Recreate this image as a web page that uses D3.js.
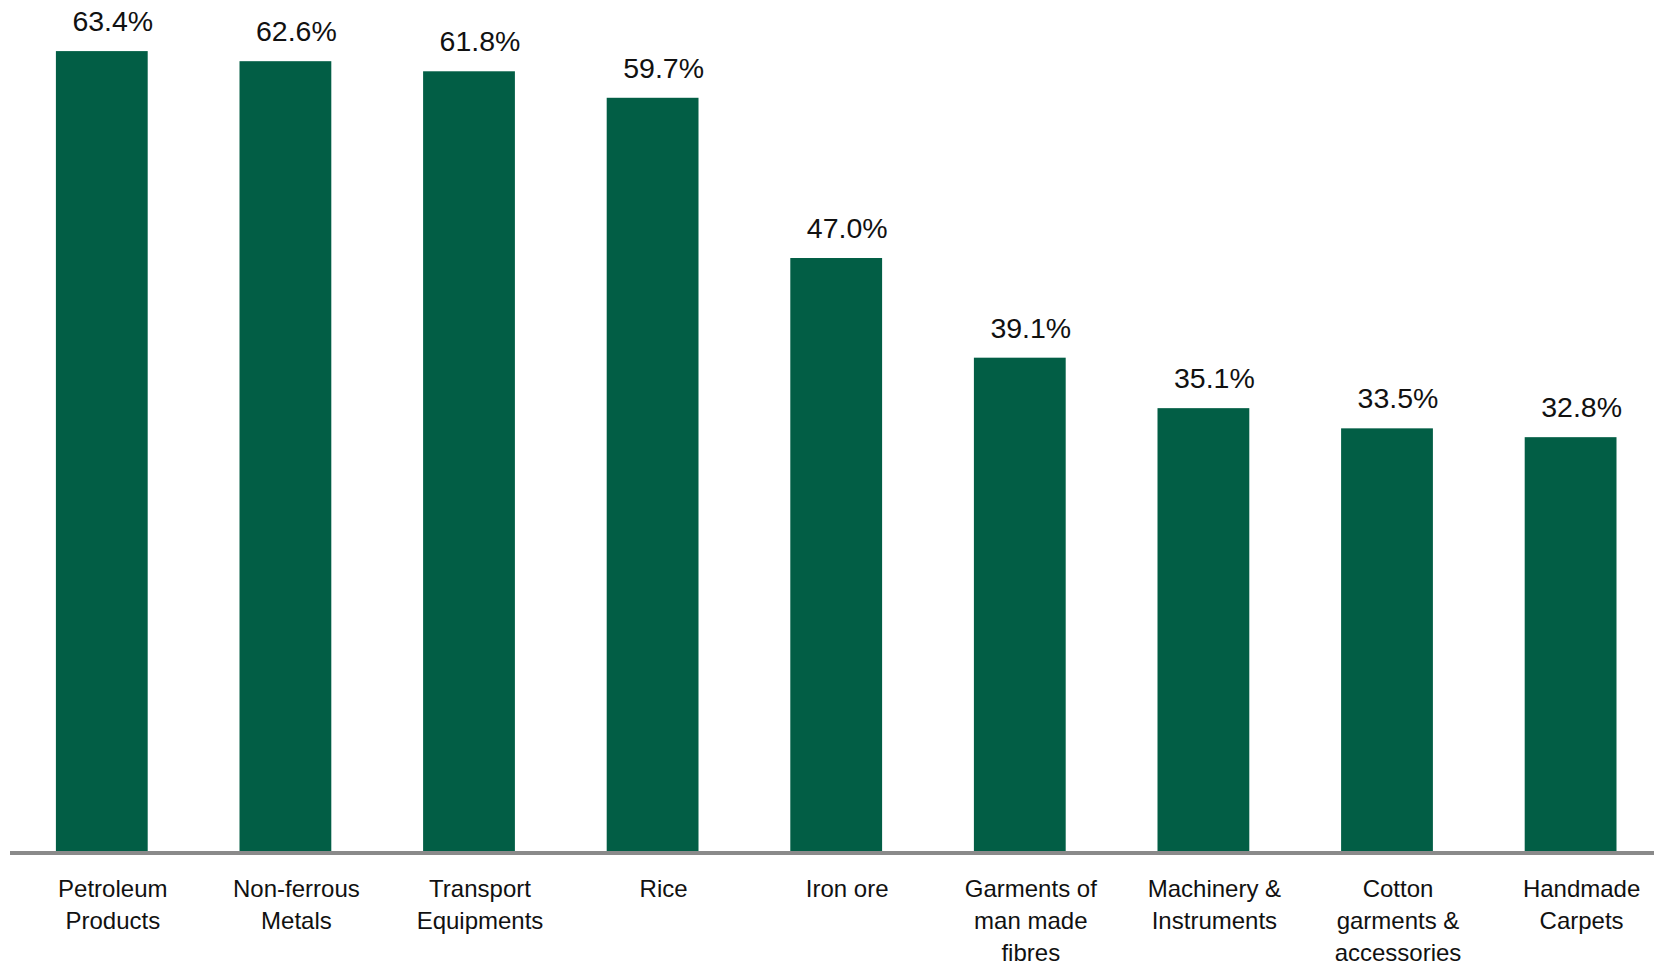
<!DOCTYPE html>
<html>
<head>
<meta charset="utf-8">
<script src="https://cdn.jsdelivr.net/npm/d3@7"></script>
<style>
  html, body { margin: 0; padding: 0; background: #fff; }
  svg { display: block; font-family: "Liberation Sans", Arial, Helvetica, sans-serif; }
</style>
</head>
<body>
<svg id="chart" width="1654" height="967"></svg>
<script>
// Export categories (label lines) and share values in percent
const categories = [
  ["Petroleum", "Products"],
  ["Non-ferrous", "Metals"],
  ["Transport", "Equipments"],
  ["Rice"],
  ["Iron ore"],
  ["Garments of", "man made", "fibres"],
  ["Machinery &", "Instruments"],
  ["Cotton", "garments &", "accessories"],
  ["Handmade", "Carpets"]
];
const values = [63.4, 62.6, 61.8, 59.7, 47.0, 39.1, 35.1, 33.5, 32.8];
const valueLabels = ["63.4%", "62.6%", "61.8%", "59.7%", "47.0%", "39.1%", "35.1%", "33.5%", "32.8%"];

const width = 1654, height = 967;
const baseY = 851;
const barColor = "#025e45";
const textShift = 11;

const svg = d3.select("#chart");

const keys = categories.map((c, i) => i);

const x = d3.scaleBand()
  .domain(keys)
  .range([10, 10 + 183.6 * 9])
  .paddingInner(0.5)
  .paddingOuter(0.25);

const y = d3.scaleLinear()
  .domain([0, 67.45])
  .range([baseY, 0]);

// Bars
svg.append("g")
  .selectAll("rect")
  .data(values)
  .join("rect")
  .attr("x", (d, i) => x(i))
  .attr("y", d => y(d))
  .attr("width", x.bandwidth())
  .attr("height", d => baseY - y(d))
  .attr("fill", barColor);

// Value labels above bars
svg.append("g")
  .selectAll("text")
  .data(values)
  .join("text")
  .attr("x", (d, i) => x(i) + x.bandwidth() / 2 + textShift)
  .attr("y", d => y(d) - 20)
  .attr("text-anchor", "middle")
  .attr("font-size", 28.5)
  .attr("fill", "#111")
  .text((d, i) => valueLabels[i]);

// Baseline
svg.append("line")
  .attr("x1", 10)
  .attr("x2", width)
  .attr("y1", baseY + 2)
  .attr("y2", baseY + 2)
  .attr("stroke", "#8a8a8a")
  .attr("stroke-width", 4);

// Category labels
const catG = svg.append("g")
  .selectAll("text")
  .data(categories)
  .join("text")
  .attr("x", (d, i) => x(i) + x.bandwidth() / 2 + textShift)
  .attr("y", 897)
  .attr("text-anchor", "middle")
  .attr("font-size", 24)
  .attr("fill", "#111");

catG.selectAll("tspan")
  .data(d => d)
  .join("tspan")
  .attr("x", function () { return d3.select(this.parentNode).attr("x"); })
  .attr("dy", (d, j) => j === 0 ? 0 : 32)
  .text(d => d);
</script>
</body>
</html>
